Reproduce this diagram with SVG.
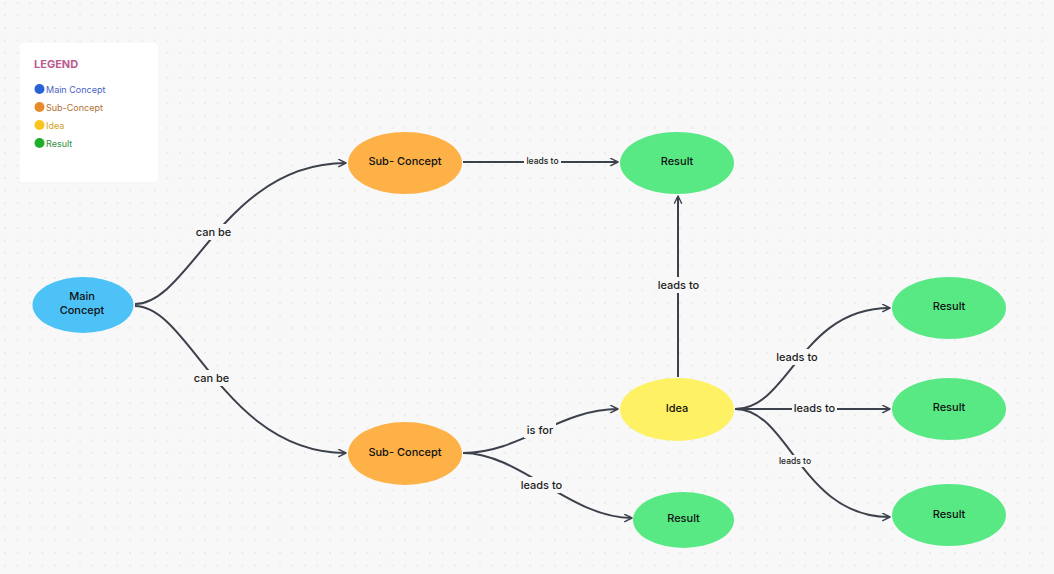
<svg xmlns="http://www.w3.org/2000/svg" width="1054" height="574" viewBox="0 0 1054 574">
<defs>
<pattern id="dots" x="4" y="2" width="12.5" height="12.5" patternUnits="userSpaceOnUse">
<circle cx="1" cy="1" r="0.7" fill="#d4d4d4"/>
</pattern>
<marker id="arr" viewBox="0 0 10 10" refX="9" refY="5" markerWidth="9" markerHeight="9" markerUnits="userSpaceOnUse" orient="auto">
<path d="M1,1 L9,5 L1,9" fill="none" stroke="#3c414c" stroke-width="1.6" stroke-linecap="round" stroke-linejoin="round"/>
</marker>
<style>
.edge{fill:none;stroke:#3c414c;stroke-width:2;marker-end:url(#arr)}
.lbl{font-family:Inter,"Noto Sans",sans-serif;font-size:11px;font-weight:500;fill:#1c1c1c;text-anchor:middle}
.lbl-s{font-family:Inter,"Noto Sans",sans-serif;font-size:8.5px;font-weight:500;fill:#1c1c1c;text-anchor:middle}
.bg{fill:#f8f8f8}
.nt{font-family:Inter,"Noto Sans",sans-serif;font-size:11px;font-weight:500;fill:#111;text-anchor:middle}
.leg{font-family:Inter,"Noto Sans",sans-serif;font-size:9px}
</style>
</defs>
<rect width="1054" height="574" fill="#f8f8f8"/>
<rect width="1054" height="574" fill="url(#dots)"/>

<g id="legend">
<rect x="20" y="43" width="138" height="139" rx="4" fill="#ffffff"/>
<text x="34" y="68" style="font-family:Inter,'Noto Sans',sans-serif;font-size:11px;font-weight:700;fill:#bd5b8f">LEGEND</text>
<circle cx="39.5" cy="89" r="5" fill="#2563d6"/>
<text x="46" y="92.5" class="leg" fill="#4a63c4">Main Concept</text>
<circle cx="39.5" cy="107" r="5" fill="#e8892a"/>
<text x="46" y="110.5" class="leg" fill="#b2702e">Sub-Concept</text>
<circle cx="39.5" cy="125" r="5" fill="#f7c51c"/>
<text x="46" y="128.5" class="leg" fill="#d3a226">Idea</text>
<circle cx="39.5" cy="143" r="5" fill="#1fae2c"/>
<text x="46" y="146.5" class="leg" fill="#2f8f40">Result</text>
</g>

<g id="connectors">
<path class="edge" d="M135,304 C190,304 225,163 346,163"/>
<path class="edge" d="M135,306 C190,306 225,453 346,453"/>
<path class="edge" d="M463,162 L618,162"/>
<path class="edge" d="M678,377 L678,196"/>
<path class="edge" d="M463,453 C520,453 560,409 618,409"/>
<path class="edge" d="M463,453 C520,453 570,518 632,518"/>
<path class="edge" d="M735,409 C790,409 800,308 890,308"/>
<path class="edge" d="M735,409 L890,409"/>
<path class="edge" d="M735,409 C790,409 800,517 890,517"/>

<rect class="bg" x="193" y="224" width="41" height="16"/>
<text class="lbl" x="213.5" y="236">can be</text>
<rect class="bg" x="191" y="370" width="41" height="16"/>
<text class="lbl" x="211.5" y="382">can be</text>
<rect class="bg" x="524" y="155" width="37" height="12"/>
<text class="lbl-s" x="542.5" y="164">leads to</text>
<rect class="bg" x="655" y="277" width="46" height="16"/>
<text class="lbl" x="678.5" y="289">leads to</text>
<rect class="bg" x="524" y="422" width="32" height="16"/>
<text class="lbl" x="540" y="434">is for</text>
<rect class="bg" x="518" y="477" width="46" height="16"/>
<text class="lbl" x="541.5" y="489">leads to</text>
<rect class="bg" x="774" y="349" width="46" height="16"/>
<text class="lbl" x="797" y="361">leads to</text>
<rect class="bg" x="792" y="400" width="45" height="16"/>
<text class="lbl" x="814.5" y="412">leads to</text>
<rect class="bg" x="776" y="455" width="38" height="12"/>
<text class="lbl-s" x="795" y="464">leads to</text>
</g>

<g id="main-concept">
<ellipse cx="83" cy="305" rx="50.5" ry="28" fill="#4cc2f7"/>
<text class="nt" x="82" y="300">Main</text>
<text class="nt" x="82" y="314">Concept</text>
</g>
<g id="sub-concept-1">
<ellipse cx="405" cy="163" rx="57" ry="31" fill="#fdb147"/>
<text class="nt" x="405" y="165">Sub- Concept</text>
</g>
<g id="sub-concept-2">
<ellipse cx="405" cy="453.5" rx="57" ry="31.5" fill="#fdb147"/>
<text class="nt" x="405" y="456">Sub- Concept</text>
</g>
<g id="result-1">
<ellipse cx="677" cy="163" rx="57" ry="31" fill="#58e884"/>
<text class="nt" x="677" y="165">Result</text>
</g>
<g id="idea">
<ellipse cx="677" cy="409.5" rx="57" ry="31.5" fill="#fff164"/>
<text class="nt" x="677" y="412">Idea</text>
</g>
<g id="result-2">
<ellipse cx="683.5" cy="520" rx="50.5" ry="28" fill="#58e884"/>
<text class="nt" x="683.5" y="522">Result</text>
</g>
<g id="result-3">
<ellipse cx="949" cy="308" rx="57" ry="31" fill="#58e884"/>
<text class="nt" x="949" y="310">Result</text>
</g>
<g id="result-4">
<ellipse cx="949" cy="409" rx="57" ry="31" fill="#58e884"/>
<text class="nt" x="949" y="411">Result</text>
</g>
<g id="result-5">
<ellipse cx="949" cy="515" rx="57" ry="31" fill="#58e884"/>
<text class="nt" x="949" y="518">Result</text>
</g>
</svg>
